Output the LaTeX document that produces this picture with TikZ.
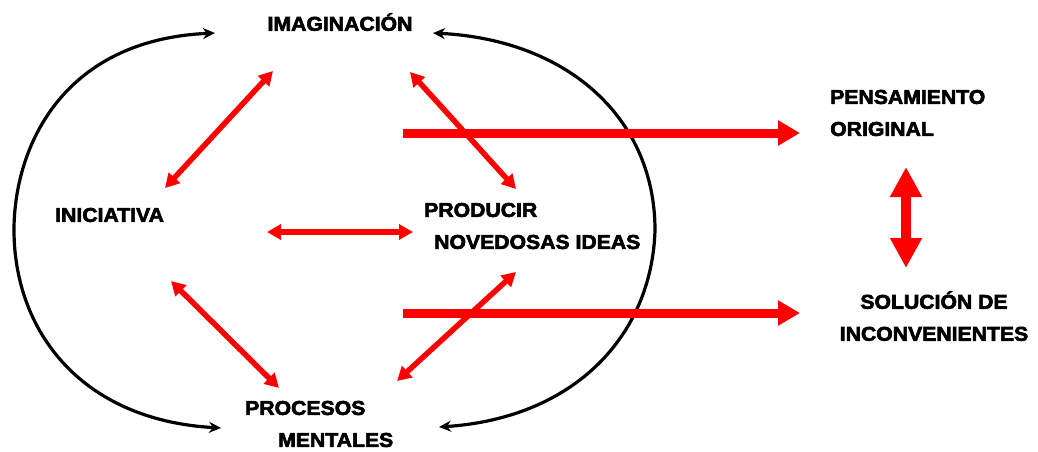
\documentclass[tikz,border=0pt]{standalone}
\usepackage{fontspec}
\newfontfamily\heavy{Liberation Sans}[BoldFeatures={FakeBold=3,FakeStretch=1.06}]
\usetikzlibrary{arrows.meta}
\tikzset{
  lbl/.style={font=\heavy\bfseries\fontsize{20}{32}\selectfont, inner sep=0pt, text=black},
  cyc/.style={draw=black, line width=3.2pt, {Stealth[length=12pt,width=11pt]}-{Stealth[length=12pt,width=11pt]}},
  rel/.style={draw=red, line width=5.5pt, {Triangle[length=14pt,width=15pt]}-{Triangle[length=14pt,width=15pt]}},
  res/.style={draw=red, line width=9pt, -{Triangle[length=22pt,width=24pt]}},
  link/.style={draw=red, line width=10pt, {Triangle[length=30pt,width=30pt]}-{Triangle[length=30pt,width=30pt]}}
}
\begin{document}
\begin{tikzpicture}[x=1pt,y=-1pt]
\useasboundingbox (0,0) rectangle (1038,451);
\fill[white] (0,0) rectangle (1038,451);
% labels
\node[lbl] (imag) at (340,22) {IMAGINACIÓN};
\node[lbl, anchor=west] (inic) at (55,215) {INICIATIVA};
\node[lbl, anchor=west, align=left] (prod) at (424,226) {PRODUCIR\\\hspace*{10pt}NOVEDOSAS IDEAS};
\node[lbl, anchor=west, align=left] (pens) at (830,113) {PENSAMIENTO\\ORIGINAL};
\node[lbl, align=center] (sol) at (934,316) {SOLUCIÓN DE\\INCONVENIENTES};
\node[lbl, anchor=west, align=left] (proc) at (245,424) {PROCESOS\\\hspace*{33pt}MENTALES};
% cycle arcs
\coordinate (lt) at (215,33);
\coordinate (lm) at (14,230);
\coordinate (lb) at (221,428);
\coordinate (rt) at (433,33);
\coordinate (rm) at (655,230);
\coordinate (rb) at (439,427);
\draw[cyc] (lt) .. controls (60,40) and (14,150) .. (lm) .. controls (14,330) and (80,420) .. (lb);
\draw[cyc] (rt) .. controls (570,40) and (655,120) .. (rm) .. controls (652,335) and (575,418) .. (rb);
% red relations
\coordinate (a1) at (273,71);  \coordinate (a2) at (165,188);
\coordinate (b1) at (410,72);  \coordinate (b2) at (516,189);
\coordinate (c1) at (267,232); \coordinate (c2) at (413,232);
\coordinate (d1) at (171,281); \coordinate (d2) at (279,388);
\coordinate (e1) at (516,272); \coordinate (e2) at (397,381);
\draw[rel] (a1) -- (a2);
\draw[rel] (b1) -- (b2);
\draw[rel] (c1) -- (c2);
\draw[rel] (d1) -- (d2);
\draw[rel] (e1) -- (e2);
% results
\coordinate (r1) at (403,133); \coordinate (r1e) at (800,133);
\coordinate (r2) at (403,313); \coordinate (r2e) at (800,313);
\draw[res] (r1) -- (r1e);
\draw[res] (r2) -- (r2e);
\coordinate (v1) at (906,167); \coordinate (v2) at (906,268);
\draw[link] (v1) -- (v2);
\end{tikzpicture}
\end{document}
